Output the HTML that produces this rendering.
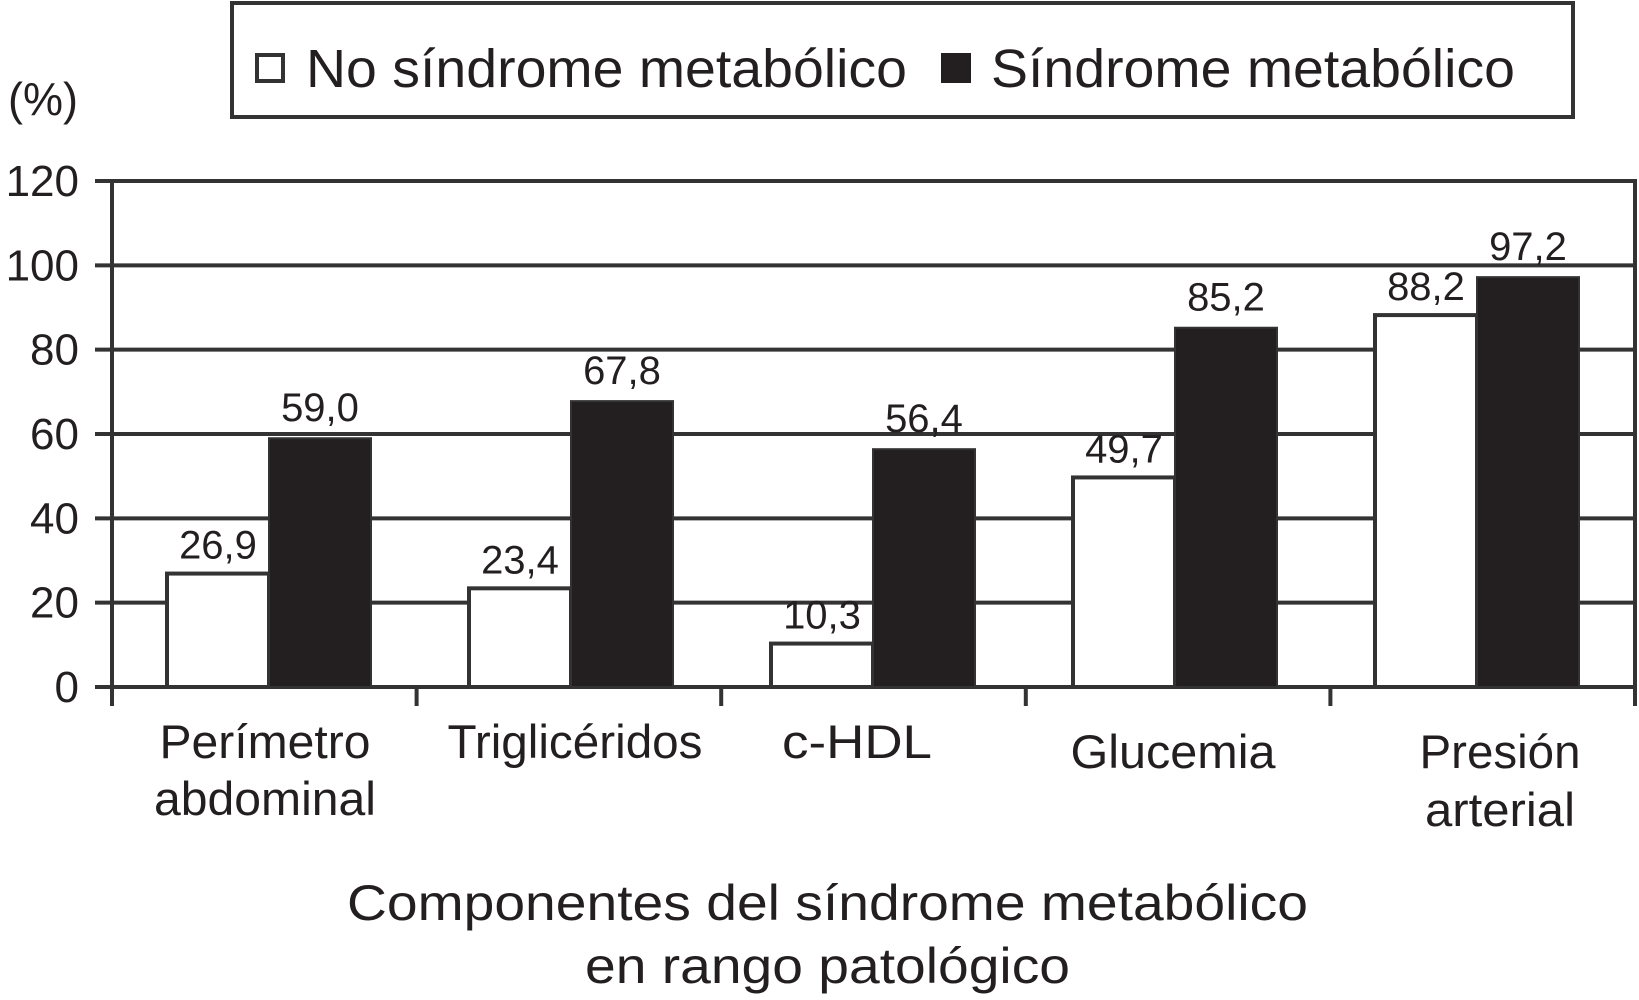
<!DOCTYPE html>
<html><head><meta charset="utf-8"><style>
html,body{margin:0;padding:0;background:#fff;}
svg{display:block;font-family:"Liberation Sans",Arial,sans-serif;fill:#231f20;}
</style></head><body>
<svg id="chart" width="1639" height="1000" viewBox="0 0 1639 1000" xmlns="http://www.w3.org/2000/svg">
<rect x="232" y="3" width="1341" height="114" fill="#fff" stroke="#333" stroke-width="4"/>
<rect x="257" y="55" width="26" height="26" fill="#fff" stroke="#333" stroke-width="4"/>
<text x="306" y="87" font-size="54" textLength="601" lengthAdjust="spacingAndGlyphs">No síndrome metabólico</text>
<rect x="941" y="53" width="30" height="30" fill="#231f20"/>
<text x="991" y="87" font-size="54" textLength="524" lengthAdjust="spacingAndGlyphs">Síndrome metabólico</text>
<text x="8" y="115" font-size="46" textLength="70" lengthAdjust="spacingAndGlyphs">(%)</text>
<g id="grid"></g>
<g id="bars"></g>
<g id="frame"></g>
<g id="labels"></g>
<text x="347" y="920" font-size="50" textLength="961" lengthAdjust="spacingAndGlyphs">Componentes del síndrome metabólico</text>
<text x="585" y="983" font-size="50" textLength="485" lengthAdjust="spacingAndGlyphs">en rango patológico</text>
</svg>
<script>
const categories = [["Perímetro","abdominal"],["Triglicéridos"],["c-HDL"],["Glucemia"],["Presión","arterial"]];
const noSM = [26.9, 23.4, 10.3, 49.7, 88.2];
const sm = [59.0, 67.8, 56.4, 85.2, 97.2];
const ticks = [0,20,40,60,80,100,120];
const valueLabelsNo = ["26,9","23,4","10,3","49,7","88,2"];
const valueLabelsSm = ["59,0","67,8","56,4","85,2","97,2"];

const NS="http://www.w3.org/2000/svg";
const X0=112, X1=1635, Y0=687, YTOP=181;
const yScale = v => Y0 - (Y0-YTOP)*v/120;
const tickW = (X1-X0)/categories.length;
const xTick = i => X0 + tickW*i;
const BAR0=167, STEP=302, BW=102;
const xBar = i => BAR0 + STEP*i;
function mk(tag, attrs, parent){const e=document.createElementNS(NS,tag);for(const k in attrs)e.setAttribute(k,attrs[k]);parent.appendChild(e);return e;}
const grid=document.getElementById('grid'), bars=document.getElementById('bars'), frame=document.getElementById('frame'), labels=document.getElementById('labels');
ticks.forEach(t=>{
  const y=yScale(t);
  const l=mk('line',{x1:95,x2:X1,y1:y,y2:y,stroke:'#333','stroke-width':4},grid);
  
  
  const tx=mk('text',{x:79,y:y+15,'font-size':44,'text-anchor':'end'},labels);
  tx.textContent=t;
  
  
});
const fr=mk('polyline',{points:`${X0},${Y0} ${X0},${YTOP} ${X1},${YTOP} ${X1},${Y0}`,fill:'none',stroke:'#333','stroke-width':4},frame);


for(let i=0;i<=categories.length;i++){
  const x=xTick(i);
  const tk=mk('line',{x1:x,x2:x,y1:Y0,y2:Y0+19,stroke:'#333','stroke-width':4},frame);
  
  
}
const catW=[[211,222],[255],[150],[205],[161,150]];
const catY=[[758,815],[758],[758],[768],[768,826]];
const catCx=[265,575,857,1173,1500];
categories.forEach((c,i)=>{
  const xa=xBar(i), xb=xBar(i)+BW;
  const ya=yScale(noSM[i]), yb=yScale(sm[i]);
  const r1=mk('rect',{x:xa,y:ya,width:BW,height:Y0-ya,fill:'#fff',stroke:'#333','stroke-width':4},bars);
  
  
  const r2=mk('rect',{x:xb,y:yb,width:BW,height:Y0-yb,fill:'#231f20',stroke:'#333','stroke-width':2},bars);
  
  
  const t1=mk('text',{x:xa+BW/2,y:ya-15,'font-size':40,'text-anchor':'middle'},labels);
  t1.textContent=valueLabelsNo[i];
  
  
  const t2=mk('text',{x:xb+BW/2,y:yb-17,'font-size':40,'text-anchor':'middle'},labels);
  t2.textContent=valueLabelsSm[i];
  
  
  c.forEach((line,j)=>{
    const w=catW[i][j];
    const ct=mk('text',{x:catCx[i]-w/2,y:catY[i][j],'font-size':47,textLength:w,lengthAdjust:'spacingAndGlyphs'},labels);
    ct.textContent=line;
    
    
  });
});
</script>
</body></html>
